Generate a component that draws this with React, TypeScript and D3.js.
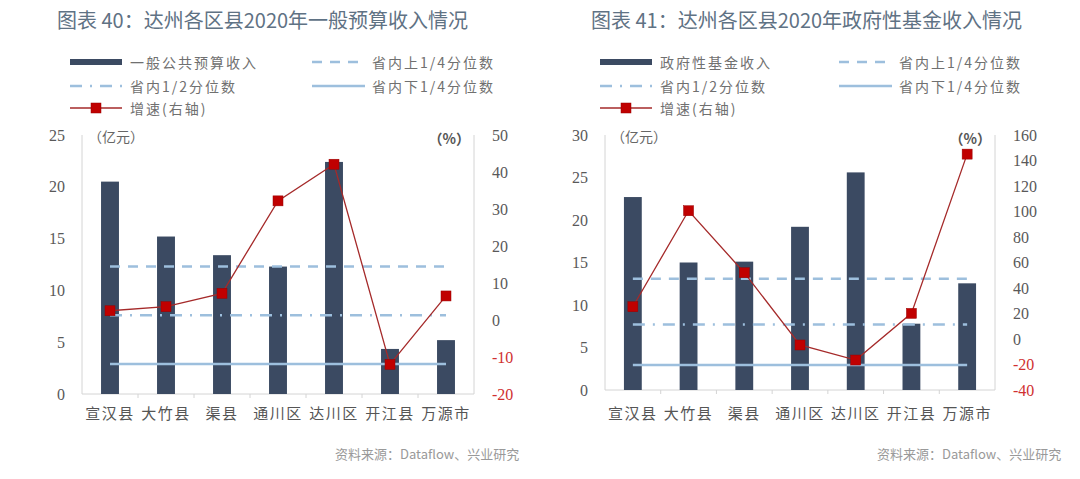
import * as d3 from "d3";

const categories = ["宣汉县", "大竹县", "渠县", "通川区", "达川区", "开江县", "万源市"];

// 图表40
const budgetIncome = [20.5, 15.2, 13.4, 12.3, 22.4, 4.35, 5.2];
const budgetGrowth = [2.5, 3.6, 7.2, 32.2, 42.1, -12.0, 6.5];
const budgetQuantiles = [12.3, 7.6, 2.9]; // 上1/4, 1/2, 下1/4
const budgetLeftTicks = [0, 5, 10, 15, 20, 25];
const budgetRightTicks = [-20, -10, 0, 10, 20, 30, 40, 50];

// 图表41
const fundIncome = [22.7, 15.0, 15.1, 19.2, 25.6, 7.8, 12.55];
const fundGrowth = [25.3, 100.6, 52, -4.7, -16.5, 20.1, 145];
const fundQuantiles = [13.1, 7.7, 2.95];
const fundLeftTicks = [0, 5, 10, 15, 20, 25, 30];
const fundRightTicks = [-40, -20, 0, 20, 40, 60, 80, 100, 120, 140, 160];

const BAR = "#3b4a62";
const QLINE = "#9dbfdd";
const RED = "#c00000";
const LINE_RED = "#a52a2a";
const AXIS = "#d4d4d4";
const TICK_TXT = "#595959";
const CJK = "'Noto Sans CJK SC', 'Noto Sans', sans-serif";
const SERIF = "'Liberation Serif', 'DejaVu Serif', serif";

const quantileStyles = [
  { dash: "10 8", name: "省内上1/4分位数" },
  { dash: "12 8 2 8", name: "省内1/2分位数" },
  { dash: null, name: "省内下1/4分位数" },
];

function Panel({
  title,
  titleX,
  barName,
  income,
  growth,
  quantiles,
  leftTicks,
  rightTicks,
  x0,
  x1,
  yTop,
  yBottom,
  legendX,
  legendX2,
  sourceX,
}: any) {
  const x = d3.scaleBand<string>().domain(categories).range([x0, x1]).padding(0);
  const bw = x.bandwidth() * 0.32;
  const yL = d3
    .scaleLinear()
    .domain([leftTicks[0], leftTicks[leftTicks.length - 1]])
    .range([yBottom, yTop]);
  const yR = d3
    .scaleLinear()
    .domain([rightTicks[0], rightTicks[rightTicks.length - 1]])
    .range([yBottom, yTop]);
  const cx = (c: string) => (x(c) ?? 0) + x.bandwidth() / 2;
  const pts = categories.map((c, i) => ({ c, v: growth[i] }));
  const line = d3
    .line<any>()
    .x((d) => cx(d.c))
    .y((d) => yR(d.v));
  const first = cx(categories[0]);
  const last = cx(categories[categories.length - 1]);

  const legendRows = [62, 86, 108];
  const lgText = { fontFamily: CJK, fontSize: 14, fill: "#707070", letterSpacing: 2, dominantBaseline: "central" as const };

  return (
    <g>
      <text x={titleX} y={28} fontFamily={CJK} fontSize={20} fontWeight={400} fill="#5f7284">
        {title}
      </text>

      {/* legend */}
      <rect x={legendX} y={legendRows[0] - 3} width={52} height={6} fill={BAR} />
      <text x={legendX + 60} y={legendRows[0]} {...lgText}>{barName}</text>
      <line x1={legendX2} x2={legendX2 + 53} y1={legendRows[0]} y2={legendRows[0]} stroke={QLINE} strokeWidth={2.5} strokeDasharray="10 8" />
      <text x={legendX2 + 60} y={legendRows[0]} {...lgText}>{quantileStyles[0].name}</text>
      <line x1={legendX} x2={legendX + 52} y1={legendRows[1]} y2={legendRows[1]} stroke={QLINE} strokeWidth={2.5} strokeDasharray="12 8 2 8" />
      <text x={legendX + 60} y={legendRows[1]} {...lgText}>{quantileStyles[1].name}</text>
      <line x1={legendX2} x2={legendX2 + 53} y1={legendRows[1]} y2={legendRows[1]} stroke={QLINE} strokeWidth={2.5} />
      <text x={legendX2 + 60} y={legendRows[1]} {...lgText}>{quantileStyles[2].name}</text>
      <line x1={legendX} x2={legendX + 52} y1={legendRows[2]} y2={legendRows[2]} stroke={LINE_RED} strokeWidth={1.3} />
      <rect x={legendX + 21} y={legendRows[2] - 5} width={10} height={10} fill={RED} stroke="#900" strokeWidth={0.5} />
      <text x={legendX + 60} y={legendRows[2]} {...lgText}>增速(右轴)</text>

      {/* axes */}
      <line x1={x0} x2={x0} y1={yTop} y2={yBottom} stroke={AXIS} />
      <line x1={x1} x2={x1} y1={yTop} y2={yBottom} stroke={AXIS} />
      <line x1={x0} x2={x1} y1={yBottom} y2={yBottom} stroke={AXIS} />
      {categories.slice(1).map((c) => (
        <line key={c} x1={x(c)} x2={x(c)} y1={yBottom} y2={yBottom + 4} stroke={AXIS} />
      ))}
      {leftTicks.map((t: number) => (
        <text key={`l${t}`} x={x0 - 17} y={yL(t)} textAnchor="end" dominantBaseline="central" fontFamily={SERIF} fontSize={16} fill={TICK_TXT}>
          {t}
        </text>
      ))}
      {rightTicks.map((t: number) => (
        <text key={`r${t}`} x={x1 + 18} y={yR(t)} textAnchor="start" dominantBaseline="central" fontFamily={SERIF} fontSize={16} fill={t < 0 ? "#d03030" : TICK_TXT}>
          {t}
        </text>
      ))}
      <text x={x0 + 6} y={yTop + 1} dominantBaseline="central" fontFamily={CJK} fontSize={14} fill="#666">（亿元）</text>
      <text x={x1 - 4} y={yTop + 3} textAnchor="end" dominantBaseline="central" fontFamily={CJK} fontSize={14} fontWeight={700} fill="#555">（%）</text>

      {/* bars */}
      {categories.map((c, i) => (
        <rect key={c} x={cx(c) - bw / 2} y={yL(income[i])} width={bw} height={yBottom - yL(income[i])} fill={BAR} />
      ))}

      {/* quantile lines */}
      {quantiles.map((q: number, i: number) => (
        <line
          key={i}
          x1={first}
          x2={last}
          y1={yL(q)}
          y2={yL(q)}
          stroke={QLINE}
          strokeWidth={2.5}
          strokeDasharray={quantileStyles[i].dash ?? undefined}
        />
      ))}

      {/* growth line */}
      <path d={line(pts) ?? ""} fill="none" stroke={LINE_RED} strokeWidth={1.3} />
      {pts.map((p) => (
        <rect key={p.c} x={cx(p.c) - 5} y={yR(p.v) - 5} width={10} height={10} fill={RED} stroke="#900" strokeWidth={0.5} />
      ))}

      {/* category labels */}
      {categories.map((c) => (
        <text key={c} x={cx(c)} y={412} textAnchor="middle" dominantBaseline="central" fontFamily={CJK} fontSize={15} letterSpacing={1.5} fill="#555">
          {c}
        </text>
      ))}

      <text x={sourceX} y={453} dominantBaseline="central" fontFamily={CJK} fontSize={13} fill="#999">
        资料来源：Dataflow、兴业研究
      </text>
    </g>
  );
}

export default function App() {
  return (
    <svg
      width={1080}
      height={479}
      style={{ position: "absolute", left: 0, top: 0, background: "#fff" }}
    >
      <rect width={1080} height={479} fill="#fff" />
      <Panel
        title="图表 40：达州各区县2020年一般预算收入情况"
        titleX={57}
        barName="一般公共预算收入"
        income={budgetIncome}
        growth={budgetGrowth}
        quantiles={budgetQuantiles}
        leftTicks={budgetLeftTicks}
        rightTicks={budgetRightTicks}
        x0={82}
        x1={474}
        yTop={135}
        yBottom={394}
        legendX={70}
        legendX2={312}
        sourceX={335}
      />
      <Panel
        title="图表 41：达州各区县2020年政府性基金收入情况"
        titleX={591}
        barName="政府性基金收入"
        income={fundIncome}
        growth={fundGrowth}
        quantiles={fundQuantiles}
        leftTicks={fundLeftTicks}
        rightTicks={fundRightTicks}
        x0={605}
        x1={995}
        yTop={135}
        yBottom={390}
        legendX={600}
        legendX2={839}
        sourceX={877}
      />
    </svg>
  );
}
